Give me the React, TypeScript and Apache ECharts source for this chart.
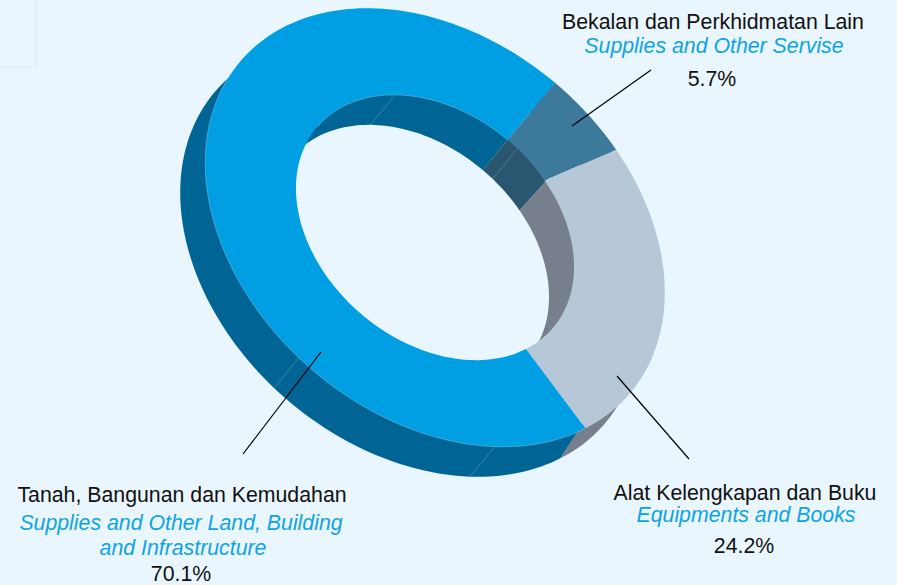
import React, { useEffect, useRef } from "react";
import * as echarts from "echarts";

const shares = [5.7, 24.2, 70.1];
const malayNames = ["Bekalan dan Perkhidmatan Lain", "Alat Kelengkapan dan Buku", "Tanah, Bangunan dan Kemudahan"];
const englishNames = [["Supplies and Other Servise"], ["Equipments and Books"], ["Supplies and Other Land, Building", "and Infrastructure"]];
const topColors = ["#3D799B", "#B6C7D7", "#009EE2"];
const wallColors = ["#2B566F", "#767F8B", "#006595"];
const seamAnglesOuter = [42.8, 94.2];
const seamAnglesInner = [221.3, 274.3];

const BG = "#EAF6FD";
const CX = 435, CY = 227.5, A = 256, B = 188, PHI = (40.5 * Math.PI) / 180;
const INNER = 0.605, DX = -25, DY = 30, START = -90.6;
const TANGENT = 180;

const pt = (deg: number, r: number, off = 0): number[] => {
  const t = (deg * Math.PI) / 180;
  const u = A * r * Math.cos(t), v = B * r * Math.sin(t);
  return [CX + u * Math.cos(PHI) - v * Math.sin(PHI) + off * DX, CY + u * Math.sin(PHI) + v * Math.cos(PHI) + off * DY];
};
const arc = (a0: number, a1: number, r: number, off = 0): number[][] => {
  const n = Math.max(2, Math.ceil(Math.abs(a1 - a0) / 1.5));
  const out: number[][] = [];
  for (let i = 0; i <= n; i++) out.push(pt(a0 + ((a1 - a0) * i) / n, r, off));
  return out;
};
const range = (i: number): number[] => {
  let s = START;
  for (let k = 0; k < i; k++) s += (shares[k] / 100) * 360;
  return [s, s + (shares[i] / 100) * 360];
};
const band = (x: number[][], y: number[][]) => x.concat(y.slice().reverse());

// The rim edge of each wall is tucked under the top face so no dark halo shows around it.
const wall = (r: number, tucked: number) => (params: any, api: any) => {
  const [a0, a1] = range(params.dataIndex);
  api.value(0);
  return {
    type: "polygon",
    shape: { points: band(arc(a0, a1, tucked, 0), arc(a0, a1, r, 1)) },
    style: { fill: wallColors[params.dataIndex] },
  };
};
const face = (params: any, api: any) => {
  const [a0, a1] = range(params.dataIndex);
  api.value(0);
  const last = params.dataIndex === shares.length - 1;
  const children: any[] = [
    {
      type: "polygon",
      shape: { points: band(arc(a0, a1, 1), arc(a0, a1, INNER)) },
      style: { fill: topColors[params.dataIndex] },
    },
  ];
  if (last) {
    children.push({
      type: "polyline",
      shape: { points: arc(a0, TANGENT, 1) },
      style: { fill: "none", stroke: "rgba(200,232,250,0.55)", lineWidth: 0.6 },
    });
    children.push({
      type: "polyline",
      shape: { points: arc(TANGENT, a1, INNER) },
      style: { fill: "none", stroke: "rgba(200,232,250,0.55)", lineWidth: 0.6 },
    });
  }
  return { type: "group", children };
};
const seams = (_params: any, _api: any) => ({
  type: "group",
  children: [
    ...seamAnglesOuter.map((a) => ({ a, r: 1 })),
    ...seamAnglesInner.map((a) => ({ a, r: INNER })),
  ].map(({ a, r }) => {
    const [x1, y1] = pt(a, r, 0);
    const [x2, y2] = pt(a, r, 1);
    return { type: "line", shape: { x1, y1, x2, y2 }, style: { stroke: "rgba(190,220,235,0.45)", lineWidth: 0.6 } };
  }),
});

const label = (text: string, x: number, y: number, blue = false) => ({
  type: "text",
  z: 20,
  style: {
    text,
    x,
    y,
    align: "center",
    verticalAlign: "middle",
    fill: blue ? "#0FA3E3" : "#111111",
    font: `${blue ? "italic " : ""}21.3px "Liberation Sans", Arial, sans-serif`,
  },
});
const leader = (x1: number, y1: number, x2: number, y2: number) => ({
  type: "line",
  z: 20,
  shape: { x1, y1, x2, y2 },
  style: { stroke: "#000000", lineWidth: 1.2 },
});

export default function App() {
  const ref = useRef<HTMLDivElement>(null);
  useEffect(() => {
    const chart = echarts.init(ref.current!, undefined, { renderer: "svg" });
    const data = shares.map((v) => [v]);
    chart.setOption({
      animation: false,
      backgroundColor: BG,
      series: [
        { type: "custom", coordinateSystem: "none", z: 1, silent: true, data, renderItem: wall(1, 0.98) },
        { type: "custom", coordinateSystem: "none", z: 2, silent: true, data, renderItem: wall(INNER, INNER * 1.03) },
        { type: "custom", coordinateSystem: "none", z: 3, silent: true, data: [[1]], renderItem: seams },
        { type: "custom", coordinateSystem: "none", z: 4, silent: true, data, renderItem: face },
      ],
      graphic: [
        {
          type: "rect",
          z: 0,
          shape: { x: -5, y: -5, width: 41, height: 72 },
          style: { fill: "none", stroke: "#E0F0FA", lineWidth: 2 },
        },
        leader(651, 70, 572, 126),
        leader(243, 454, 321, 352),
        leader(689, 459, 617, 376),
        label(malayNames[0], 713, 22),
        label(englishNames[0][0], 714, 46, true),
        label(`${shares[0]}%`, 712, 79),
        label(malayNames[1], 745, 493),
        label(englishNames[1][0], 746, 515, true),
        label(`${shares[1]}%`, 744, 546),
        label(malayNames[2], 182, 495),
        label(englishNames[2][0], 181, 523, true),
        label(englishNames[2][1], 183, 548, true),
        label(`${shares[2]}%`, 181, 574),
      ],
    });
    return () => chart.dispose();
  }, []);
  return <div ref={ref} style={{ position: "fixed", left: 0, top: 0, width: 897, height: 585 }} />;
}
